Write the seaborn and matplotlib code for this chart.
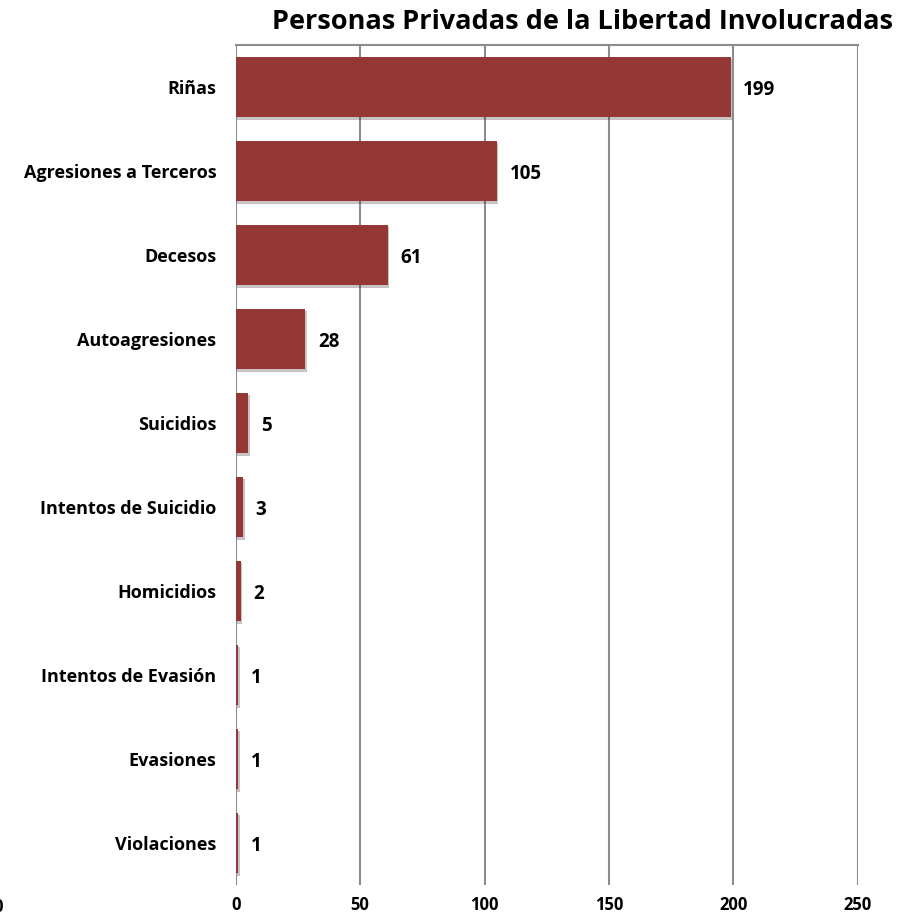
import matplotlib
matplotlib.use("Agg")
import matplotlib.pyplot as plt
import matplotlib.patheffects as pe
import seaborn as sns
import pandas as pd

# Data
categorias = ["Riñas", "Agresiones a Terceros", "Decesos", "Autoagresiones",
              "Suicidios", "Intentos de Suicidio", "Homicidios",
              "Intentos de Evasión", "Evasiones", "Violaciones"]
valores = [199, 105, 61, 28, 5, 3, 2, 1, 1, 1]
ticks_x = [0, 50, 100, 150, 200, 250]

df = pd.DataFrame({"categoria": categorias, "valor": valores})

sns.set_style("white")
plt.rcParams["font.family"] = ["Open Sans", "DejaVu Sans"]
plt.rcParams["text.color"] = "black"

fig = plt.figure(figsize=(9, 9.17), dpi=100)
ax = fig.add_axes([0.262, 0.035, 0.691, 0.916])

sns.barplot(data=df, x="valor", y="categoria", color="#953735",
            saturation=1, width=0.72, ax=ax, zorder=3,
            linewidth=0, edgecolor="none")

# soft drop shadow like the original
for bar in ax.patches:
    bar.set_path_effects([pe.SimplePatchShadow(offset=(1, -2), alpha=0.25),
                          pe.Normal()])

for i, v in enumerate(valores):
    ax.annotate(str(v), (v, i), xytext=(9, -2), textcoords="offset points",
                va="center", ha="left", fontsize=13.5, fontweight="bold",
                color="black")

ax.set_xlim(0, 250)
ax.set_ylim(9.5, -0.5)
ax.set_xticks(ticks_x)
ax.set_xticklabels([str(t) for t in ticks_x], fontsize=12, fontweight="bold",
                   color="black")
ax.tick_params(axis="x", length=0, pad=8)
ax.tick_params(axis="y", length=0, pad=14)
for lab in ax.get_yticklabels():
    lab.set_fontsize(13)
    lab.set_fontweight("bold")
    lab.set_color("black")
ax.set_xlabel("")
ax.set_ylabel("")

ax.grid(axis="x", color="#8c8c8c", linewidth=1.5, zorder=0)
ax.grid(axis="y", visible=False)
for s in ["left", "right", "bottom"]:
    ax.spines[s].set_visible(False)
ax.spines["top"].set_color("#8c8c8c")
ax.spines["top"].set_linewidth(1.5)

fig.text(0.647, 0.976, "Personas Privadas de la Libertad Involucradas",
         ha="center", va="center", fontsize=19.5, fontweight="bold")
# clipped label remnant at the left edge, as in the original
fig.text(-0.007, 0.011, "0", ha="left", va="center", fontsize=12,
         fontweight="bold")

fig.savefig("out.png", dpi=100)
